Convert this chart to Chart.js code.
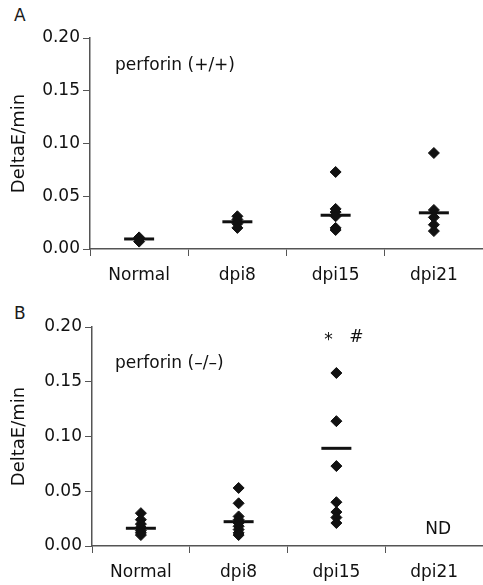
<!DOCTYPE html>
<html>
<head>
<meta charset="utf-8">
<script src="https://cdn.jsdelivr.net/npm/chart.js@4/dist/chart.umd.min.js"></script>
<style>
  html, body { margin: 0; padding: 0; background: #fff; }
  body { width: 483px; height: 585px; position: relative; overflow: hidden; font-family: "DejaVu Sans", sans-serif; color: #1a1a1a; }
  .panel { position: absolute; left: 0; }
  .plabel { position: absolute; left: 14px; font-size: 17px; line-height: 20px; }
</style>
</head>
<body>
<div class="plabel" style="top:5px;">A</div>
<div class="plabel" style="top:303px;">B</div>
<canvas id="chartA" class="panel" style="top:0px;" width="483" height="290"></canvas>
<canvas id="chartB" class="panel" style="top:290px;" width="483" height="295"></canvas>
<script>
// ---- data ----
const categories = ['Normal', 'dpi8', 'dpi15', 'dpi21'];
const yTicks = [0, 0.05, 0.10, 0.15, 0.20];

// Panel A: perforin (+/+)
const wtNormal = [0.011, 0.007];
const wtDpi8   = [0.031, 0.028, 0.024, 0.020];
const wtDpi15  = [0.073, 0.038, 0.035, 0.031, 0.020, 0.018];
const wtDpi21  = [0.091, 0.037, 0.030, 0.023, 0.017];
const wtMeans  = [0.0095, 0.0258, 0.032, 0.0343];

// Panel B: perforin (-/-)
const koNormal = [0.030, 0.024, 0.020, 0.017, 0.014, 0.012, 0.010];
const koDpi8   = [0.053, 0.039, 0.027, 0.024, 0.021, 0.018, 0.015, 0.012, 0.010];
const koDpi15  = [0.158, 0.114, 0.073, 0.040, 0.031, 0.026, 0.021];
const koDpi21  = [];
const koMeans  = [0.0162, 0.0222, 0.0892, null];

const INK = '#111111';
const AXIS = '#555555';
const FONT = '"DejaVu Sans", sans-serif';

function pointsFrom(groups) {
  const pts = [];
  groups.forEach((vals, i) => vals.forEach(v => pts.push({ x: categories[i], y: v })));
  return pts;
}
function meansFrom(means) {
  return means.map((v, i) => ({ x: categories[i], y: v })).filter(p => p.y !== null);
}

const textPlugin = {
  id: 'panelText',
  afterDatasetsDraw(chart, args, opts) {
    const ctx = chart.ctx;
    const xs = chart.scales.x, ys = chart.scales.y;
    ctx.save();
    ctx.fillStyle = INK;
    ctx.textBaseline = 'middle';
    (opts.items || []).forEach(it => {
      ctx.font = (it.size || 17) + 'px ' + FONT;
      let x;
      if (it.cat !== undefined) {
        x = xs.getPixelForValue(categories.indexOf(it.cat)) + (it.dx || 0);
        ctx.textAlign = 'center';
      } else {
        x = chart.chartArea.left + it.fromLeft;
        ctx.textAlign = 'left';
      }
      ctx.fillText(it.text, x, ys.getPixelForValue(it.y));
    });
    ctx.restore();
  }
};

function makeChart(id, groups, means, yAxisWidth, xAxisHeight, topPad, items) {
  return new Chart(document.getElementById(id), {
    type: 'line',
    data: {
      labels: categories,
      datasets: [
        {
          data: pointsFrom(groups),
          showLine: false,
          pointStyle: 'rectRot',
          pointRadius: 5.5,
          pointHoverRadius: 5.5,
          pointBackgroundColor: INK,
          pointBorderColor: INK,
          pointBorderWidth: 1
        },
        {
          data: meansFrom(means),
          showLine: false,
          pointStyle: 'line',
          pointRadius: 15,
          pointHoverRadius: 15,
          pointBorderColor: INK,
          pointBorderWidth: 3
        }
      ]
    },
    options: {
      responsive: false,
      animation: false,
      events: [],
      layout: { autoPadding: false, padding: { top: topPad, left: 0, right: 0, bottom: 0 } },
      plugins: { legend: { display: false }, tooltip: { enabled: false }, panelText: { items } },
      scales: {
        x: {
          type: 'category',
          offset: true,
          grid: { offset: true, drawOnChartArea: false, drawTicks: true, tickLength: 7, color: AXIS, lineWidth: 1 },
          border: { display: true, color: AXIS, width: 1.5 },
          ticks: { color: INK, font: { family: FONT, size: 17 }, padding: 9, maxRotation: 0, autoSkip: false },
          afterFit(s) { s.height = xAxisHeight; }
        },
        y: {
          min: 0,
          max: 0.2,
          afterBuildTicks(s) { s.ticks = yTicks.map(v => ({ value: v })); },
          grid: { drawOnChartArea: false, drawTicks: true, tickLength: 7, color: AXIS, lineWidth: 1 },
          border: { display: true, color: AXIS, width: 1.5 },
          ticks: { color: INK, font: { family: FONT, size: 17 }, padding: 3, callback: v => Number(v).toFixed(2) },
          title: { display: true, text: 'DeltaE/min', color: INK, font: { family: FONT, size: 18 }, padding: { top: 9, bottom: 0 } },
          afterFit(s) { s.width = yAxisWidth; }
        }
      }
    },
    plugins: [textPlugin]
  });
}

makeChart('chartA', [wtNormal, wtDpi8, wtDpi15, wtDpi21], wtMeans, 90, 41, 38, [
  { text: 'perforin (+/+)', fromLeft: 25, y: 0.174 }
]);
makeChart('chartB', [koNormal, koDpi8, koDpi15, koDpi21], koMeans, 92, 39, 37, [
  { text: 'perforin (\u2013/\u2013)', fromLeft: 23, y: 0.167 },
  { text: '*', cat: 'dpi15', dx: -8, y: 0.188 },
  { text: '#', cat: 'dpi15', dx: 20, y: 0.190 },
  { text: 'ND', cat: 'dpi21', dx: 4, y: 0.0146 }
]);
</script>
</body>
</html>
